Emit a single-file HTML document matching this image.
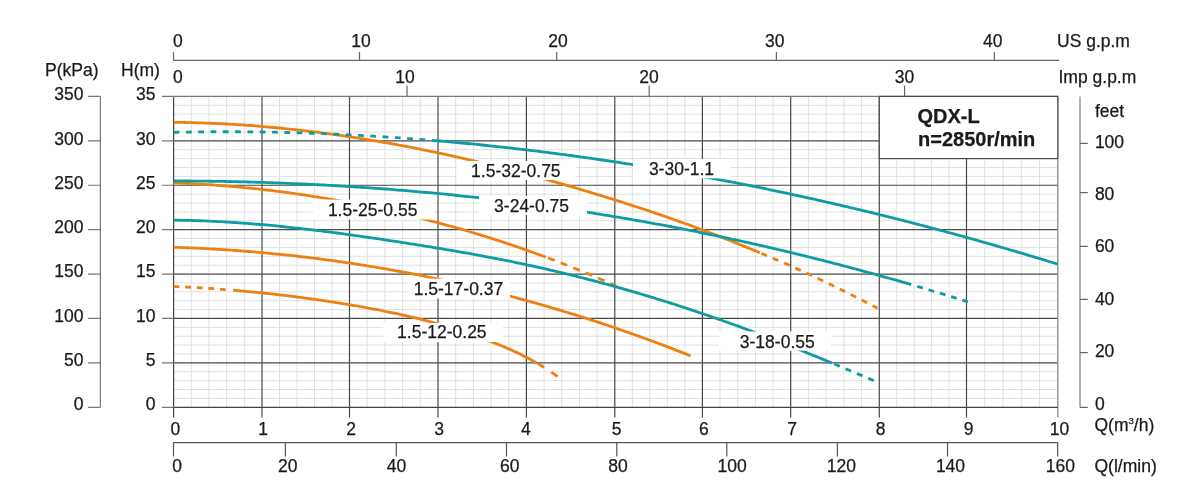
<!DOCTYPE html><html><head><meta charset="utf-8"><style>html,body{margin:0;padding:0;background:#fff;}body{width:1196px;height:500px;overflow:hidden;}svg{display:block;will-change:transform;}text{font-family:"Liberation Sans", sans-serif;fill:#1a1a1a;stroke:#1a1a1a;stroke-width:0.25px;}</style></head><body>
<svg width="1196" height="500" viewBox="0 0 1196 500">
<rect width="1196" height="500" fill="#fff"/>
<path d="M191.28 96.4V407.3M208.96 96.4V407.3M226.64 96.4V407.3M244.32 96.4V407.3M279.50 96.4V407.3M297.00 96.4V407.3M314.50 96.4V407.3M332.00 96.4V407.3M367.20 96.4V407.3M384.90 96.4V407.3M402.60 96.4V407.3M420.30 96.4V407.3M455.68 96.4V407.3M473.36 96.4V407.3M491.04 96.4V407.3M508.72 96.4V407.3M544.08 96.4V407.3M561.76 96.4V407.3M579.44 96.4V407.3M597.12 96.4V407.3M632.32 96.4V407.3M649.84 96.4V407.3M667.36 96.4V407.3M684.88 96.4V407.3M720.06 96.4V407.3M737.72 96.4V407.3M755.38 96.4V407.3M773.04 96.4V407.3M808.42 96.4V407.3M826.14 96.4V407.3M843.86 96.4V407.3M861.58 96.4V407.3M896.74 96.4V407.3M914.18 96.4V407.3M931.62 96.4V407.3M949.06 96.4V407.3M984.76 96.4V407.3M1003.02 96.4V407.3M1021.28 96.4V407.3M1039.54 96.4V407.3M173.6 398.42H1057.8M173.6 389.53H1057.8M173.6 380.65H1057.8M173.6 371.77H1057.8M173.6 354.00H1057.8M173.6 345.12H1057.8M173.6 336.24H1057.8M173.6 327.35H1057.8M173.6 309.59H1057.8M173.6 300.71H1057.8M173.6 291.82H1057.8M173.6 282.94H1057.8M173.6 265.17H1057.8M173.6 256.29H1057.8M173.6 247.41H1057.8M173.6 238.53H1057.8M173.6 220.76H1057.8M173.6 211.88H1057.8M173.6 202.99H1057.8M173.6 194.11H1057.8M173.6 176.35H1057.8M173.6 167.46H1057.8M173.6 158.58H1057.8M173.6 149.70H1057.8M173.6 131.93H1057.8M173.6 123.05H1057.8M173.6 114.17H1057.8M173.6 105.28H1057.8" stroke="#e0e0e0" stroke-width="1" fill="none"/>
<path d="M262.00 96.4V407.3M349.50 96.4V407.3M438.00 96.4V407.3M526.40 96.4V407.3M614.80 96.4V407.3M702.40 96.4V407.3M790.70 96.4V407.3M879.30 96.4V407.3M966.50 96.4V407.3M173.6 362.89H1057.8M173.6 318.47H1057.8M173.6 274.06H1057.8M173.6 229.64H1057.8M173.6 185.23H1057.8M173.6 140.81H1057.8" stroke="#4a4a4a" stroke-width="1.2" fill="none"/>
<path d="M173.6 96.4H1057.8" stroke="#777" stroke-width="1.3" fill="none"/>
<path d="M1057.8 96.4V417.5" stroke="#8a8a8a" stroke-width="1.3" fill="none"/>
<path d="M173.6 407.3H1057.8M173.6 96.4V417.5" stroke="#444" stroke-width="1.2" fill="none"/>
<path d="M262.00 407.3V417.5M349.50 407.3V417.5M438.00 407.3V417.5M526.40 407.3V417.5M614.80 407.3V417.5M702.40 407.3V417.5M790.70 407.3V417.5M879.30 407.3V417.5M966.50 407.3V417.5" stroke="#4a4a4a" stroke-width="1.2" fill="none"/>
<path d="M173.60 122.34 L176.24 122.37 L178.88 122.40 L181.52 122.44 L184.16 122.48 L186.80 122.53 L189.44 122.59 L192.07 122.65 L194.71 122.72 L197.35 122.79 L199.99 122.87 L202.63 122.96 L205.27 123.05 L207.91 123.15 L210.55 123.25 L213.19 123.36 L215.83 123.48 L218.47 123.60 L221.11 123.73 L223.75 123.86 L226.38 124.00 L229.02 124.15 L231.66 124.30 L234.30 124.46 L236.94 124.62 L239.58 124.79 L242.22 124.96 L244.86 125.14 L247.50 125.33 L250.14 125.52 L252.78 125.72 L255.42 125.92 L258.06 126.13 L260.69 126.34 L263.33 126.56 L265.97 126.79 L268.61 127.02 L271.25 127.26 L273.89 127.50 L276.53 127.75 L279.17 128.00 L281.81 128.26 L284.45 128.53 L287.09 128.80 L289.73 129.07 L292.36 129.35 L295.00 129.64 L297.64 129.93 L300.28 130.23 L302.92 130.53 L305.56 130.84 L308.20 131.16 L310.84 131.47 L313.48 131.80 L316.12 132.13 L318.76 132.46 L321.40 132.80 L324.04 133.15 L326.67 133.50 L329.31 133.86 L331.95 134.22 L334.59 134.59 L337.23 134.96 L339.87 135.33 L342.51 135.72 L345.15 136.10 L347.79 136.50 L350.43 136.89 L353.07 137.30 L355.71 137.70 L358.35 138.12 L360.98 138.54 L363.62 138.96 L366.26 139.39 L368.90 139.82 L371.54 140.26 L374.18 140.70 L376.82 141.15 L379.46 141.60 L382.10 142.06 L384.74 142.52 L387.38 142.99 L390.02 143.46 L392.66 143.94 L395.29 144.42 L397.93 144.91 L400.57 145.40 L403.21 145.90 L405.85 146.40 L408.49 146.90 L411.13 147.41 L413.77 147.93 L416.41 148.45 L419.05 148.98 L421.69 149.51 L424.33 150.04 L426.97 150.58 L429.60 151.12 L432.24 151.67 L434.88 152.22 L437.52 152.78 L440.16 153.34 L442.80 153.91 L445.44 154.48 L448.08 155.06 L450.72 155.64 L453.36 156.22 L456.00 156.81 L458.64 157.41 L461.27 158.00 L463.91 158.61 L466.55 159.21 L469.19 159.83 L471.83 160.44 L474.47 161.06 L477.11 161.69 L479.75 162.31 L482.39 162.95 L485.03 163.59 L487.67 164.23 L490.31 164.87 L492.95 165.52 L495.58 166.18 L498.22 166.84 L500.86 167.50 L503.50 168.17 L506.14 168.84 L508.78 169.51 L511.42 170.19 L514.06 170.88 L516.70 171.57 L519.34 172.26 L521.98 172.95 L524.62 173.65 L527.26 174.36 L529.89 175.07 L532.53 175.78 L535.17 176.49 L537.81 177.21 L540.45 177.94 L543.09 178.67 L545.73 179.40 L548.37 180.14 L551.01 180.87 L553.65 181.62 L556.29 182.37 L558.93 183.12 L561.57 183.87 L564.20 184.63 L566.84 185.40 L569.48 186.16 L572.12 186.93 L574.76 187.71 L577.40 188.49 L580.04 189.27 L582.68 190.05 L585.32 190.84 L587.96 191.63 L590.60 192.43 L593.24 193.23 L595.88 194.04 L598.51 194.84 L601.15 195.65 L603.79 196.47 L606.43 197.29 L609.07 198.11 L611.71 198.93 L614.35 199.76 L616.99 200.59 L619.63 201.43 L622.27 202.27 L624.91 203.11 L627.55 203.96 L630.18 204.81 L632.82 205.67 L635.46 206.53 L638.10 207.39 L640.74 208.26 L643.38 209.13 L646.02 210.00 L648.66 210.88 L651.30 211.77 L653.94 212.66 L656.58 213.55 L659.22 214.45 L661.86 215.36 L664.49 216.26 L667.13 217.18 L669.77 218.10 L672.41 219.02 L675.05 219.95 L677.69 220.89 L680.33 221.83 L682.97 222.77 L685.61 223.72 L688.25 224.68 L690.89 225.64 L693.53 226.61 L696.17 227.58 L698.80 228.57 L701.44 229.55 L704.08 230.54 L706.72 231.54 L709.36 232.55 L712.00 233.56 L714.64 234.57 L717.28 235.60 L719.92 236.62 L722.56 237.65 L725.20 238.69 L727.84 239.73 L730.48 240.78 L733.11 241.83 L735.75 242.89 L738.39 243.95 L741.03 245.02 L743.67 246.09 L746.31 247.16 L748.95 248.24 L751.59 249.32 L754.23 250.41 L756.87 251.50 L759.51 252.59 L759.80 252.71" stroke="#EE800F" stroke-width="2.8" fill="none" stroke-linejoin="round"/>
<path d="M761.37 253.37 L763.92 254.43 L766.45 255.49 L767.00 255.72M772.71 258.13 L775.23 259.20 L777.76 260.28 L778.32 260.52M784.01 262.98 L786.53 264.08 L789.06 265.20 L789.60 265.43M795.26 267.96 L797.78 269.10 L800.31 270.25 L800.81 270.48M806.45 273.08 L808.96 274.25 L811.50 275.43 L811.97 275.66M817.58 278.31 L820.09 279.51 L822.62 280.72 L823.08 280.94M828.66 283.64 L831.16 284.86 L833.69 286.10 L834.14 286.32M839.70 289.06 L842.23 290.32 L844.76 291.58 L845.17 291.78M850.71 294.55 L853.24 295.82 L855.77 297.10 L856.16 297.29M861.69 300.09 L864.19 301.36 L866.73 302.65 L867.13 302.86M872.65 305.68 L875.20 306.98 L877.50 308.16" stroke="#EE800F" stroke-width="2.8" fill="none"/>
<path d="M173.60 132.33 L176.13 132.27 L178.66 132.22 L179.40 132.20M185.90 132.08 L188.40 132.04 L190.93 132.00 L191.70 131.99M198.20 131.90 L200.80 131.87 L203.33 131.85 L204.00 131.84M210.50 131.79 L213.07 131.77 L215.60 131.76 L216.30 131.76M222.80 131.74 L225.34 131.73 L227.87 131.73 L228.60 131.74M235.10 131.75 L237.62 131.76 L240.15 131.77 L240.90 131.78M247.40 131.82 L250.01 131.85 L252.54 131.87 L253.20 131.88M259.69 131.96 L262.29 132.00 L264.82 132.04 L265.49 132.05M271.99 132.16 L274.56 132.21 L277.09 132.26 L277.79 132.28M284.29 132.43 L286.83 132.49 L289.36 132.55 L290.09 132.57M296.59 132.75 L299.10 132.82 L301.63 132.90 L302.38 132.93M308.88 133.14 L311.50 133.23 L314.03 133.32 L314.68 133.34M321.17 133.58 L323.77 133.69 L326.30 133.79 L326.97 133.82M333.46 134.09 L336.04 134.21 L338.57 134.32 L339.26 134.35M345.75 134.66 L348.31 134.79 L350.85 134.92 L351.54 134.95M358.03 135.29 L360.59 135.43 L363.12 135.57 L363.82 135.61M370.31 135.98 L372.86 136.13 L375.39 136.29 L376.10 136.33M382.59 136.73 L385.13 136.90 L387.66 137.06 L388.38 137.11M394.86 137.54 L397.40 137.72 L399.93 137.89 L400.65 137.94M407.13 138.41 L409.67 138.60 L412.20 138.79 L412.92 138.84M419.40 139.34 L421.95 139.54 L424.48 139.74 L425.18 139.79" stroke="#0E9CA4" stroke-width="2.8" fill="none"/>
<path d="M432.00 140.35 L434.50 140.56 L437.01 140.77 L439.51 140.98 L442.02 141.20 L444.52 141.42 L447.03 141.64 L449.53 141.86 L452.04 142.09 L454.54 142.32 L457.04 142.55 L459.55 142.78 L462.05 143.02 L464.56 143.26 L467.06 143.50 L469.57 143.74 L472.07 143.98 L474.58 144.23 L477.08 144.48 L479.58 144.73 L482.09 144.99 L484.59 145.25 L487.10 145.51 L489.60 145.77 L492.11 146.03 L494.61 146.30 L497.12 146.57 L499.62 146.84 L502.12 147.11 L504.63 147.39 L507.13 147.67 L509.64 147.95 L512.14 148.23 L514.65 148.52 L517.15 148.81 L519.66 149.10 L522.16 149.39 L524.66 149.68 L527.17 149.98 L529.67 150.28 L532.18 150.58 L534.68 150.89 L537.19 151.20 L539.69 151.50 L542.20 151.82 L544.70 152.13 L547.20 152.45 L549.71 152.77 L552.21 153.09 L554.72 153.41 L557.22 153.74 L559.73 154.06 L562.23 154.39 L564.74 154.73 L567.24 155.06 L569.74 155.40 L572.25 155.74 L574.75 156.08 L577.26 156.42 L579.76 156.77 L582.27 157.12 L584.77 157.47 L587.28 157.82 L589.78 158.18 L592.28 158.54 L594.79 158.90 L597.29 159.26 L599.80 159.63 L602.30 159.99 L604.81 160.36 L607.31 160.73 L609.82 161.11 L612.32 161.48 L614.83 161.86 L617.33 162.24 L619.83 162.63 L622.34 163.01 L624.84 163.40 L627.35 163.79 L629.85 164.18 L632.36 164.58 L634.86 164.97 L637.37 165.37 L639.87 165.77 L642.37 166.18 L644.88 166.58 L647.38 166.99 L649.89 167.40 L652.39 167.82 L654.90 168.23 L657.40 168.65 L659.91 169.07 L662.41 169.49 L664.91 169.91 L667.42 170.34 L669.92 170.77 L672.43 171.20 L674.93 171.63 L677.44 172.07 L679.94 172.50 L682.45 172.94 L684.95 173.39 L687.45 173.83 L689.96 174.28 L692.46 174.73 L694.97 175.18 L697.47 175.63 L699.98 176.09 L702.48 176.55 L704.99 177.01 L707.49 177.47 L709.99 177.93 L712.50 178.40 L715.00 178.87 L717.51 179.34 L720.01 179.82 L722.52 180.29 L725.02 180.77 L727.53 181.25 L730.03 181.73 L732.53 182.22 L735.04 182.71 L737.54 183.19 L740.05 183.69 L742.55 184.18 L745.06 184.68 L747.56 185.18 L750.07 185.68 L752.57 186.18 L755.07 186.69 L757.58 187.19 L760.08 187.70 L762.59 188.21 L765.09 188.73 L767.60 189.25 L770.10 189.76 L772.61 190.29 L775.11 190.81 L777.61 191.33 L780.12 191.86 L782.62 192.39 L785.13 192.93 L787.63 193.46 L790.14 194.00 L792.64 194.54 L795.15 195.08 L797.65 195.62 L800.15 196.17 L802.66 196.71 L805.16 197.26 L807.67 197.82 L810.17 198.37 L812.68 198.93 L815.18 199.49 L817.69 200.05 L820.19 200.61 L822.69 201.18 L825.20 201.75 L827.70 202.32 L830.21 202.89 L832.71 203.47 L835.22 204.04 L837.72 204.62 L840.23 205.20 L842.73 205.79 L845.23 206.37 L847.74 206.96 L850.24 207.55 L852.75 208.15 L855.25 208.74 L857.76 209.34 L860.26 209.94 L862.77 210.54 L865.27 211.14 L867.77 211.75 L870.28 212.36 L872.78 212.97 L875.29 213.58 L877.79 214.20 L880.30 214.81 L882.80 215.43 L885.31 216.05 L887.81 216.68 L890.31 217.30 L892.82 217.93 L895.32 218.56 L897.83 219.20 L900.33 219.83 L902.84 220.47 L905.34 221.11 L907.85 221.75 L910.35 222.39 L912.85 223.04 L915.36 223.69 L917.86 224.34 L920.37 224.99 L922.87 225.65 L925.38 226.30 L927.88 226.96 L930.39 227.63 L932.89 228.29 L935.39 228.96 L937.90 229.62 L940.40 230.30 L942.91 230.97 L945.41 231.64 L947.92 232.32 L950.42 233.00 L952.93 233.68 L955.43 234.37 L957.93 235.05 L960.44 235.74 L962.94 236.43 L965.45 237.12 L967.95 237.82 L970.46 238.52 L972.96 239.21 L975.47 239.92 L977.97 240.62 L980.48 241.33 L982.98 242.03 L985.48 242.74 L987.99 243.46 L990.49 244.17 L993.00 244.89 L995.50 245.61 L998.01 246.33 L1000.51 247.05 L1003.02 247.78 L1005.52 248.51 L1008.02 249.24 L1010.53 249.97 L1013.03 250.70 L1015.54 251.44 L1018.04 252.18 L1020.55 252.92 L1023.05 253.67 L1025.56 254.41 L1028.06 255.16 L1030.56 255.91 L1033.07 256.66 L1035.57 257.42 L1038.08 258.17 L1040.58 258.93 L1043.09 259.69 L1045.59 260.46 L1048.10 261.22 L1050.60 261.99 L1053.10 262.76 L1055.61 263.53 L1057.80 264.21" stroke="#0E9CA4" stroke-width="2.8" fill="none" stroke-linejoin="round"/>
<path d="M173.60 182.80 L176.21 182.90 L178.81 183.01 L181.42 183.13 L184.02 183.25 L186.63 183.37 L189.24 183.51 L191.84 183.64 L194.45 183.79 L197.05 183.94 L199.66 184.09 L202.27 184.25 L204.87 184.42 L207.48 184.59 L210.08 184.76 L212.69 184.95 L215.30 185.14 L217.90 185.33 L220.51 185.53 L223.11 185.74 L225.72 185.95 L228.33 186.16 L230.93 186.39 L233.54 186.61 L236.14 186.85 L238.75 187.09 L241.36 187.33 L243.96 187.58 L246.57 187.84 L249.17 188.10 L251.78 188.37 L254.39 188.65 L256.99 188.93 L259.60 189.21 L262.20 189.50 L264.81 189.80 L267.42 190.10 L270.02 190.41 L272.63 190.73 L275.23 191.05 L277.84 191.37 L280.45 191.70 L283.05 192.04 L285.66 192.39 L288.26 192.73 L290.87 193.09 L293.48 193.45 L296.08 193.82 L298.69 194.19 L301.29 194.57 L303.90 194.95 L306.51 195.34 L309.11 195.74 L311.72 196.14 L314.32 196.55 L316.93 196.96 L319.54 197.38 L322.14 197.81 L324.75 198.24 L327.35 198.68 L329.96 199.12 L332.57 199.57 L335.17 200.02 L337.78 200.49 L340.38 200.95 L342.99 201.43 L345.60 201.90 L348.20 202.39 L350.81 202.88 L353.41 203.38 L356.02 203.88 L358.63 204.39 L361.23 204.90 L363.84 205.42 L366.44 205.95 L369.05 206.48 L371.66 207.02 L374.26 207.57 L376.87 208.12 L379.47 208.67 L382.08 209.24 L384.69 209.80 L387.29 210.38 L389.90 210.96 L392.50 211.55 L395.11 212.14 L397.72 212.74 L400.32 213.34 L402.93 213.95 L405.53 214.57 L408.14 215.20 L410.75 215.82 L413.35 216.46 L415.96 217.10 L418.56 217.75 L421.17 218.40 L423.78 219.06 L426.38 219.73 L428.99 220.40 L431.59 221.08 L434.20 221.76 L436.81 222.45 L439.41 223.15 L442.02 223.85 L444.62 224.56 L447.23 225.28 L449.84 226.00 L452.44 226.72 L455.05 227.46 L457.65 228.20 L460.26 228.95 L462.87 229.70 L465.47 230.46 L468.08 231.22 L470.68 231.99 L473.29 232.77 L475.90 233.56 L478.50 234.35 L481.11 235.15 L483.71 235.95 L486.32 236.76 L488.93 237.58 L491.53 238.40 L494.14 239.24 L496.74 240.07 L499.35 240.92 L501.96 241.77 L504.56 242.62 L507.17 243.49 L509.77 244.36 L512.38 245.24 L514.99 246.12 L517.59 247.01 L520.20 247.91 L522.80 248.82 L525.41 249.73 L528.02 250.65 L530.62 251.57 L533.23 252.51 L535.83 253.45 L538.44 254.39 L541.05 255.35 L543.65 256.31 L545.70 257.07" stroke="#EE800F" stroke-width="2.8" fill="none" stroke-linejoin="round"/>
<path d="M548.04 257.95 L550.55 258.89 L553.07 259.84 L554.59 260.42M560.66 262.76 L563.16 263.73 L565.68 264.72 L567.17 265.31M573.21 267.71 L575.73 268.73 L578.25 269.75 L579.70 270.34M585.71 272.82 L588.24 273.87 L590.75 274.93 L592.17 275.52M598.15 278.07 L600.67 279.16 L603.18 280.25 L604.57 280.85M610.52 283.47 L613.03 284.58 L615.54 285.71 L616.50 286.14" stroke="#EE800F" stroke-width="2.8" fill="none"/>
<path d="M173.60 180.95 L176.18 180.96 L178.77 180.97 L181.35 180.98 L183.93 180.99 L186.51 181.00 L189.10 181.02 L191.68 181.04 L194.26 181.06 L196.85 181.08 L199.43 181.11 L202.01 181.13 L204.59 181.16 L207.18 181.19 L209.76 181.23 L212.34 181.26 L214.93 181.30 L217.51 181.34 L220.09 181.39 L222.67 181.43 L225.26 181.48 L227.84 181.53 L230.42 181.58 L233.01 181.64 L235.59 181.70 L238.17 181.75 L240.76 181.82 L243.34 181.88 L245.92 181.95 L248.50 182.01 L251.09 182.09 L253.67 182.16 L256.25 182.23 L258.84 182.31 L261.42 182.39 L264.00 182.47 L266.58 182.56 L269.17 182.64 L271.75 182.73 L274.33 182.83 L276.92 182.92 L279.50 183.02 L282.08 183.11 L284.66 183.22 L287.25 183.32 L289.83 183.42 L292.41 183.53 L295.00 183.64 L297.58 183.76 L300.16 183.87 L302.74 183.99 L305.33 184.11 L307.91 184.23 L310.49 184.36 L313.08 184.48 L315.66 184.61 L318.24 184.74 L320.82 184.88 L323.41 185.01 L325.99 185.15 L328.57 185.29 L331.16 185.44 L333.74 185.58 L336.32 185.73 L338.91 185.88 L341.49 186.04 L344.07 186.19 L346.65 186.35 L349.24 186.51 L351.82 186.68 L354.40 186.84 L356.99 187.01 L359.57 187.18 L362.15 187.35 L364.73 187.53 L367.32 187.71 L369.90 187.89 L372.48 188.07 L375.07 188.26 L377.65 188.44 L380.23 188.63 L382.81 188.83 L385.40 189.02 L387.98 189.22 L390.56 189.42 L393.15 189.62 L395.73 189.83 L398.31 190.04 L400.89 190.25 L403.48 190.46 L406.06 190.67 L408.64 190.89 L411.23 191.11 L413.81 191.33 L416.39 191.56 L418.97 191.79 L421.56 192.02 L424.14 192.25 L426.72 192.49 L429.31 192.72 L431.89 192.96 L434.47 193.21 L437.05 193.45 L439.64 193.70 L442.22 193.95 L444.80 194.21 L447.39 194.46 L449.97 194.72 L452.55 194.98 L455.14 195.24 L457.72 195.51 L460.30 195.78 L462.88 196.05 L465.47 196.32 L468.05 196.60 L470.63 196.88 L473.22 197.16 L475.80 197.45 L478.38 197.73 L480.96 198.02 L483.55 198.31 L486.13 198.61 L488.71 198.91 L491.30 199.21 L493.88 199.51 L496.46 199.81 L499.04 200.12 L501.63 200.43 L504.21 200.75 L506.79 201.06 L509.38 201.38 L511.96 201.70 L514.54 202.03 L517.12 202.35 L519.71 202.68 L522.29 203.01 L524.87 203.35 L527.46 203.68 L530.04 204.02 L532.62 204.37 L535.20 204.71 L537.79 205.06 L540.37 205.41 L542.95 205.76 L545.54 206.12 L548.12 206.48 L550.70 206.84 L553.29 207.20 L555.87 207.57 L558.45 207.94 L561.03 208.31 L563.62 208.68 L566.20 209.06 L568.78 209.44 L571.37 209.83 L573.95 210.21 L576.53 210.60 L579.11 210.99 L581.70 211.38 L584.28 211.78 L586.86 212.18 L589.45 212.58 L592.03 212.99 L594.61 213.40 L597.19 213.81 L599.78 214.22 L602.36 214.64 L604.94 215.05 L607.53 215.48 L610.11 215.90 L612.69 216.33 L615.27 216.76 L617.86 217.19 L620.44 217.63 L623.02 218.06 L625.61 218.50 L628.19 218.95 L630.77 219.39 L633.35 219.84 L635.94 220.30 L638.52 220.75 L641.10 221.21 L643.69 221.67 L646.27 222.13 L648.85 222.60 L651.43 223.07 L654.02 223.54 L656.60 224.01 L659.18 224.49 L661.77 224.97 L664.35 225.46 L666.93 225.94 L669.52 226.43 L672.10 226.92 L674.68 227.42 L677.26 227.91 L679.85 228.41 L682.43 228.91 L685.01 229.42 L687.60 229.93 L690.18 230.44 L692.76 230.95 L695.34 231.47 L697.93 231.99 L700.51 232.51 L703.09 233.04 L705.68 233.56 L708.26 234.09 L710.84 234.63 L713.42 235.16 L716.01 235.70 L718.59 236.25 L721.17 236.79 L723.76 237.34 L726.34 237.89 L728.92 238.44 L731.50 239.00 L734.09 239.56 L736.67 240.12 L739.25 240.68 L741.84 241.25 L744.42 241.82 L747.00 242.39 L749.58 242.97 L752.17 243.55 L754.75 244.13 L757.33 244.71 L759.92 245.30 L762.50 245.89 L765.08 246.48 L767.67 247.08 L770.25 247.67 L772.83 248.28 L775.41 248.88 L778.00 249.49 L780.58 250.10 L783.16 250.71 L785.75 251.32 L788.33 251.94 L790.91 252.56 L793.49 253.19 L796.08 253.81 L798.66 254.44 L801.24 255.07 L803.83 255.71 L806.41 256.35 L808.99 256.99 L811.57 257.63 L814.16 258.28 L816.74 258.93 L819.32 259.58 L821.91 260.23 L824.49 260.89 L827.07 261.55 L829.65 262.21 L832.24 262.88 L834.82 263.55 L837.40 264.22 L839.99 264.90 L842.57 265.57 L845.15 266.25 L847.73 266.94 L850.32 267.62 L852.90 268.31 L855.48 269.00 L858.07 269.70 L860.65 270.40 L863.23 271.10 L865.81 271.80 L868.40 272.51 L870.98 273.21 L873.56 273.93 L876.15 274.64 L878.73 275.36 L881.31 276.08 L883.90 276.80 L886.48 277.53 L889.06 278.26 L891.64 278.99 L894.23 279.72 L896.81 280.46 L899.39 281.20 L901.98 281.94 L904.56 282.69 L907.14 283.44 L909.72 284.19 L911.20 284.62" stroke="#0E9CA4" stroke-width="2.8" fill="none" stroke-linejoin="round"/>
<path d="M917.25 286.39 L919.77 287.14 L922.29 287.89 L922.85 288.05M928.56 289.75 L931.06 290.51 L933.59 291.27 L934.16 291.44M939.85 293.16 L942.36 293.93 L944.88 294.70 L945.45 294.87M951.13 296.63 L953.65 297.41 L956.17 298.19 L956.72 298.36M962.40 300.14 L964.92 300.93 L967.44 301.73 L967.98 301.90" stroke="#0E9CA4" stroke-width="2.8" fill="none"/>
<path d="M173.60 220.20 L176.23 220.22 L178.87 220.25 L181.50 220.29 L184.14 220.34 L186.77 220.39 L189.41 220.45 L192.04 220.52 L194.68 220.59 L197.31 220.67 L199.95 220.76 L202.58 220.85 L205.21 220.96 L207.85 221.06 L210.48 221.18 L213.12 221.30 L215.75 221.42 L218.39 221.56 L221.02 221.70 L223.66 221.84 L226.29 222.00 L228.92 222.15 L231.56 222.32 L234.19 222.49 L236.83 222.66 L239.46 222.85 L242.10 223.03 L244.73 223.23 L247.37 223.43 L250.00 223.63 L252.64 223.84 L255.27 224.05 L257.90 224.27 L260.54 224.50 L263.17 224.73 L265.81 224.97 L268.44 225.21 L271.08 225.45 L273.71 225.70 L276.35 225.96 L278.98 226.22 L281.62 226.49 L284.25 226.75 L286.88 227.03 L289.52 227.31 L292.15 227.59 L294.79 227.88 L297.42 228.17 L300.06 228.47 L302.69 228.77 L305.33 229.07 L307.96 229.38 L310.59 229.69 L313.23 230.01 L315.86 230.33 L318.50 230.65 L321.13 230.98 L323.77 231.31 L326.40 231.64 L329.04 231.98 L331.67 232.32 L334.31 232.66 L336.94 233.01 L339.57 233.36 L342.21 233.72 L344.84 234.07 L347.48 234.43 L350.11 234.80 L352.75 235.16 L355.38 235.53 L358.02 235.90 L360.65 236.27 L363.29 236.65 L365.92 237.03 L368.55 237.41 L371.19 237.79 L373.82 238.18 L376.46 238.57 L379.09 238.96 L381.73 239.35 L384.36 239.75 L387.00 240.14 L389.63 240.54 L392.26 240.94 L394.90 241.34 L397.53 241.74 L400.17 242.15 L402.80 242.56 L405.44 242.96 L408.07 243.37 L410.71 243.78 L413.34 244.20 L415.98 244.61 L418.61 245.03 L421.24 245.45 L423.88 245.87 L426.51 246.29 L429.15 246.72 L431.78 247.15 L434.42 247.58 L437.05 248.01 L439.69 248.45 L442.32 248.89 L444.96 249.33 L447.59 249.77 L450.22 250.22 L452.86 250.67 L455.49 251.12 L458.13 251.58 L460.76 252.04 L463.40 252.50 L466.03 252.96 L468.67 253.43 L471.30 253.90 L473.93 254.38 L476.57 254.86 L479.20 255.34 L481.84 255.83 L484.47 256.32 L487.11 256.82 L489.74 257.32 L492.38 257.82 L495.01 258.33 L497.65 258.84 L500.28 259.35 L502.91 259.87 L505.55 260.40 L508.18 260.93 L510.82 261.46 L513.45 262.00 L516.09 262.54 L518.72 263.09 L521.36 263.64 L523.99 264.20 L526.63 264.76 L529.26 265.33 L531.89 265.90 L534.53 266.48 L537.16 267.06 L539.80 267.65 L542.43 268.24 L545.07 268.84 L547.70 269.45 L550.34 270.05 L552.97 270.67 L555.61 271.29 L558.24 271.91 L560.87 272.54 L563.51 273.17 L566.14 273.81 L568.78 274.45 L571.41 275.10 L574.05 275.76 L576.68 276.42 L579.32 277.08 L581.95 277.75 L584.58 278.42 L587.22 279.10 L589.85 279.79 L592.49 280.47 L595.12 281.17 L597.76 281.87 L600.39 282.57 L603.03 283.28 L605.66 283.99 L608.30 284.71 L610.93 285.44 L613.56 286.17 L616.20 286.90 L618.83 287.64 L621.47 288.38 L624.10 289.13 L626.74 289.88 L629.37 290.64 L632.01 291.41 L634.64 292.17 L637.28 292.95 L639.91 293.73 L642.54 294.51 L645.18 295.30 L647.81 296.09 L650.45 296.89 L653.08 297.69 L655.72 298.50 L658.35 299.31 L660.99 300.13 L663.62 300.95 L666.25 301.78 L668.89 302.61 L671.52 303.45 L674.16 304.29 L676.79 305.13 L679.43 305.99 L682.06 306.84 L684.70 307.70 L687.33 308.57 L689.97 309.44 L692.60 310.32 L695.23 311.20 L697.87 312.08 L700.50 312.97 L703.14 313.87 L705.77 314.77 L708.41 315.67 L711.04 316.58 L713.68 317.50 L716.31 318.41 L718.95 319.34 L721.58 320.27 L724.21 321.20 L726.85 322.14 L729.48 323.08 L732.12 324.03 L734.75 324.98 L737.39 325.94 L740.02 326.90 L742.66 327.87 L745.29 328.84 L747.92 329.81 L750.56 330.80 L753.19 331.78 L755.83 332.77 L758.46 333.77 L761.10 334.77 L763.73 335.77 L766.37 336.78 L769.00 337.79 L771.64 338.81 L774.27 339.83 L776.90 340.85 L779.54 341.88 L782.17 342.92 L784.81 343.95 L787.44 345.00 L790.08 346.04 L792.71 347.09 L795.35 348.14 L797.98 349.20 L800.62 350.25 L803.25 351.32 L805.88 352.38 L808.52 353.45 L811.15 354.52 L813.79 355.60 L816.42 356.67 L819.06 357.75 L821.69 358.84 L824.33 359.92 L826.96 361.01 L829.59 362.10 L831.90 363.06" stroke="#0E9CA4" stroke-width="2.8" fill="none" stroke-linejoin="round"/>
<path d="M834.21 364.02 L836.72 365.06 L839.23 366.11 L839.75 366.33M845.56 368.76 L848.07 369.82 L850.58 370.87 L851.09 371.08M856.89 373.53 L859.41 374.59 L861.91 375.66 L862.42 375.87M868.22 378.33 L870.74 379.40 L873.24 380.47 L873.74 380.68" stroke="#0E9CA4" stroke-width="2.8" fill="none"/>
<path d="M173.60 247.28 L176.19 247.36 L178.77 247.45 L181.36 247.54 L183.95 247.63 L186.53 247.74 L189.12 247.84 L191.70 247.95 L194.29 248.06 L196.88 248.18 L199.46 248.31 L202.05 248.43 L204.64 248.56 L207.22 248.70 L209.81 248.84 L212.39 248.98 L214.98 249.13 L217.57 249.29 L220.15 249.45 L222.74 249.61 L225.33 249.77 L227.91 249.95 L230.50 250.12 L233.08 250.30 L235.67 250.49 L238.26 250.68 L240.84 250.87 L243.43 251.07 L246.02 251.27 L248.60 251.48 L251.19 251.69 L253.78 251.90 L256.36 252.12 L258.95 252.35 L261.53 252.58 L264.12 252.81 L266.71 253.05 L269.29 253.29 L271.88 253.54 L274.47 253.79 L277.05 254.05 L279.64 254.31 L282.22 254.57 L284.81 254.84 L287.40 255.12 L289.98 255.40 L292.57 255.68 L295.16 255.97 L297.74 256.26 L300.33 256.56 L302.91 256.86 L305.50 257.17 L308.09 257.48 L310.67 257.79 L313.26 258.11 L315.85 258.44 L318.43 258.76 L321.02 259.10 L323.61 259.44 L326.19 259.78 L328.78 260.13 L331.36 260.48 L333.95 260.83 L336.54 261.20 L339.12 261.56 L341.71 261.93 L344.30 262.31 L346.88 262.69 L349.47 263.07 L352.05 263.46 L354.64 263.85 L357.23 264.25 L359.81 264.65 L362.40 265.06 L364.99 265.47 L367.57 265.89 L370.16 266.31 L372.74 266.74 L375.33 267.17 L377.92 267.60 L380.50 268.04 L383.09 268.49 L385.68 268.94 L388.26 269.39 L390.85 269.85 L393.43 270.31 L396.02 270.78 L398.61 271.25 L401.19 271.73 L403.78 272.21 L406.37 272.70 L408.95 273.19 L411.54 273.69 L414.13 274.19 L416.71 274.70 L419.30 275.21 L421.88 275.72 L424.47 276.24 L427.06 276.77 L429.64 277.30 L432.23 277.83 L434.82 278.37 L437.40 278.91 L439.99 279.46 L442.57 280.02 L445.16 280.57 L447.75 281.14 L450.33 281.70 L452.92 282.28 L455.51 282.85 L458.09 283.44 L460.68 284.02 L463.26 284.61 L465.85 285.21 L468.44 285.81 L471.02 286.42 L473.61 287.03 L476.20 287.65 L478.78 288.27 L481.37 288.89 L483.96 289.52 L486.54 290.16 L489.13 290.80 L491.71 291.44 L494.30 292.09 L496.89 292.74 L499.47 293.40 L502.06 294.07 L504.65 294.74 L507.23 295.41 L509.82 296.09 L512.40 296.77 L514.99 297.46 L517.58 298.16 L520.16 298.85 L522.75 299.56 L525.34 300.27 L527.92 300.98 L530.51 301.70 L533.09 302.42 L535.68 303.15 L538.27 303.88 L540.85 304.62 L543.44 305.36 L546.03 306.11 L548.61 306.86 L551.20 307.62 L553.79 308.38 L556.37 309.15 L558.96 309.92 L561.54 310.70 L564.13 311.48 L566.72 312.27 L569.30 313.06 L571.89 313.85 L574.48 314.66 L577.06 315.46 L579.65 316.28 L582.23 317.09 L584.82 317.91 L587.41 318.74 L589.99 319.57 L592.58 320.41 L595.17 321.25 L597.75 322.10 L600.34 322.95 L602.92 323.81 L605.51 324.67 L608.10 325.54 L610.68 326.41 L613.27 327.29 L615.86 328.17 L618.44 329.06 L621.03 329.95 L623.62 330.85 L626.20 331.75 L628.79 332.66 L631.37 333.57 L633.96 334.49 L636.55 335.41 L639.13 336.34 L641.72 337.27 L644.31 338.21 L646.89 339.15 L649.48 340.10 L652.06 341.05 L654.65 342.01 L657.24 342.97 L659.82 343.94 L662.41 344.92 L665.00 345.89 L667.58 346.88 L670.17 347.87 L672.75 348.86 L675.34 349.86 L677.93 350.86 L680.51 351.87 L683.10 352.89 L685.69 353.91 L688.27 354.93 L690.60 355.86" stroke="#EE800F" stroke-width="2.8" fill="none" stroke-linejoin="round"/>
<path d="M173.60 286.44 L176.12 286.55 L178.64 286.66 L179.39 286.70M185.19 286.98 L187.71 287.11 L190.23 287.24 L190.98 287.28M196.77 287.61 L199.29 287.76 L201.81 287.91 L202.56 287.96M208.35 288.33 L210.88 288.50 L213.40 288.67 L214.13 288.72M219.92 289.14 L222.43 289.33 L224.95 289.53 L225.70 289.58" stroke="#EE800F" stroke-width="2.8" fill="none"/>
<path d="M233.00 290.18 L235.58 290.39 L238.15 290.61 L240.73 290.84 L243.31 291.07 L245.88 291.31 L248.46 291.55 L251.04 291.80 L253.61 292.05 L256.19 292.30 L258.77 292.56 L261.34 292.83 L263.92 293.10 L266.50 293.37 L269.08 293.65 L271.65 293.93 L274.23 294.22 L276.81 294.51 L279.38 294.81 L281.96 295.11 L284.54 295.42 L287.11 295.73 L289.69 296.05 L292.27 296.37 L294.84 296.70 L297.42 297.03 L300.00 297.36 L302.57 297.71 L305.15 298.05 L307.73 298.40 L310.30 298.76 L312.88 299.12 L315.46 299.48 L318.03 299.85 L320.61 300.22 L323.19 300.60 L325.76 300.99 L328.34 301.38 L330.92 301.77 L333.49 302.17 L336.07 302.57 L338.65 302.98 L341.23 303.40 L343.80 303.81 L346.38 304.24 L348.96 304.66 L351.53 305.10 L354.11 305.54 L356.69 305.98 L359.26 306.43 L361.84 306.88 L364.42 307.34 L366.99 307.81 L369.57 308.28 L372.15 308.76 L374.72 309.25 L377.30 309.74 L379.88 310.24 L382.45 310.75 L385.03 311.26 L387.61 311.78 L390.18 312.31 L392.76 312.85 L395.34 313.40 L397.91 313.95 L400.49 314.52 L403.07 315.09 L405.64 315.67 L408.22 316.27 L410.80 316.87 L413.38 317.48 L415.95 318.10 L418.53 318.73 L421.11 319.37 L423.68 320.02 L426.26 320.69 L428.84 321.36 L431.41 322.05 L433.99 322.74 L436.57 323.45 L439.14 324.17 L441.72 324.90 L444.30 325.65 L446.87 326.41 L449.45 327.17 L452.03 327.96 L454.60 328.75 L457.18 329.56 L459.76 330.38 L462.33 331.22 L464.91 332.07 L467.49 332.93 L470.06 333.81 L472.64 334.70 L475.22 335.61 L477.79 336.53 L480.37 337.47 L482.95 338.42 L485.53 339.39 L488.10 340.38 L490.68 341.38 L493.26 342.39 L495.83 343.42 L498.41 344.47 L500.99 345.54 L503.56 346.62 L506.14 347.72 L508.72 348.85 L511.29 350.00 L513.87 351.17 L516.45 352.37 L519.02 353.59 L521.60 354.85 L524.18 356.14 L526.75 357.46 L529.33 358.82 L531.91 360.22 L534.48 361.66 L536.00 362.52" stroke="#EE800F" stroke-width="2.8" fill="none" stroke-linejoin="round"/>
<path d="M537.56 363.42 L540.06 364.91 L542.57 366.44 L544.14 367.42M551.33 372.14 L553.83 373.88 L556.34 375.68 L557.60 376.60" stroke="#EE800F" stroke-width="2.8" fill="none"/>
<rect x="457" y="161" width="119" height="19" fill="#fff"/>
<rect x="633" y="159" width="98" height="19.30000000000001" fill="#fff"/>
<rect x="313" y="199.6" width="121" height="19.900000000000006" fill="#fff"/>
<rect x="479" y="196" width="108" height="19" fill="#fff"/>
<rect x="408" y="278.6" width="102" height="19.899999999999977" fill="#fff"/>
<rect x="383" y="323" width="120" height="19" fill="#fff"/>
<rect x="719" y="331.5" width="112" height="19.100000000000023" fill="#fff"/>
<text x="471.1" y="176.9" font-size="17.5">1.5-32-0.75</text>
<text x="648.9" y="174.7" font-size="17.5">3-30-1.1</text>
<text x="327.9" y="216.3" font-size="17.5">1.5-25-0.55</text>
<text x="494.1" y="211.6" font-size="17.5">3-24-0.75</text>
<text x="413.7" y="295" font-size="17.5">1.5-17-0.37</text>
<text x="397.1" y="338.4" font-size="17.5">1.5-12-0.25</text>
<text x="739.8" y="347.7" font-size="17.5">3-18-0.55</text>
<rect x="879.3" y="96.4" width="178.5" height="62.2" fill="#fff" stroke="#4a4a4a" stroke-width="1.2"/>
<text x="917.5" y="122.5" font-size="20" font-weight="bold">QDX-L</text>
<text x="918" y="146.2" font-size="20" font-weight="bold">n=2850r/min</text>
<path d="M100.4 96.4V407.29999999999995M88 407.30H100.4M88 362.89H100.4M88 318.47H100.4M88 274.06H100.4M88 229.64H100.4M88 185.23H100.4M88 140.81H100.4M88 96.40H100.4" stroke="#777" stroke-width="1.2" fill="none"/>
<path d="M162 407.30H173.6M162 362.89H173.6M162 318.47H173.6M162 274.06H173.6M162 229.64H173.6M162 185.23H173.6M162 140.81H173.6M162 96.40H173.6" stroke="#777" stroke-width="1.2" fill="none"/>
<text x="83.5" y="410.0" font-size="17.5" text-anchor="end">0</text>
<text x="155.4" y="410.0" font-size="17.5" text-anchor="end">0</text>
<text x="83.5" y="365.8" font-size="17.5" text-anchor="end">50</text>
<text x="155.4" y="365.8" font-size="17.5" text-anchor="end">5</text>
<text x="83.5" y="321.5" font-size="17.5" text-anchor="end">100</text>
<text x="155.4" y="321.5" font-size="17.5" text-anchor="end">10</text>
<text x="83.5" y="277.3" font-size="17.5" text-anchor="end">150</text>
<text x="155.4" y="277.3" font-size="17.5" text-anchor="end">15</text>
<text x="83.5" y="233.1" font-size="17.5" text-anchor="end">200</text>
<text x="155.4" y="233.1" font-size="17.5" text-anchor="end">20</text>
<text x="83.5" y="188.9" font-size="17.5" text-anchor="end">250</text>
<text x="155.4" y="188.9" font-size="17.5" text-anchor="end">25</text>
<text x="83.5" y="144.6" font-size="17.5" text-anchor="end">300</text>
<text x="155.4" y="144.6" font-size="17.5" text-anchor="end">30</text>
<text x="83.5" y="100.4" font-size="17.5" text-anchor="end">350</text>
<text x="155.4" y="100.4" font-size="17.5" text-anchor="end">35</text>
<text x="45" y="76" font-size="17.5">P(kPa)</text>
<text x="121" y="76" font-size="17.5">H(m)</text>
<path d="M1080 96.4V407.4" stroke="#999" stroke-width="1.5" fill="none"/>
<path d="M1080 143.4H1087.8M1080 192.7H1087.8M1080 246.3H1087.8M1080 299.4H1087.8M1080 352.6H1087.8M1080 407.4H1087.8" stroke="#666" stroke-width="1.2" fill="none"/>
<text x="1094.9" y="147.5" font-size="17.5">100</text>
<text x="1094.9" y="199.9" font-size="17.5">80</text>
<text x="1094.9" y="252.3" font-size="17.5">60</text>
<text x="1094.9" y="304.8" font-size="17.5">40</text>
<text x="1094.9" y="357.2" font-size="17.5">20</text>
<text x="1094.9" y="409.6" font-size="17.5">0</text>
<text x="1095" y="117.2" font-size="17.5">feet</text>
<path d="M173.5 60.4H1059.2M173.5 52V60.4M359.5 52V60.4M556.6 52V60.4M776.4 52V60.4M994.4 52V60.4" stroke="#666" stroke-width="1.2" fill="none"/>
<text x="177.75" y="47.2" font-size="17.5" text-anchor="middle">0</text>
<text x="360.9" y="47.2" font-size="17.5" text-anchor="middle">10</text>
<text x="557.9" y="47.2" font-size="17.5" text-anchor="middle">20</text>
<text x="774.8" y="47.2" font-size="17.5" text-anchor="middle">30</text>
<text x="992.8" y="47.2" font-size="17.5" text-anchor="middle">40</text>
<text x="1057" y="47.4" font-size="17.5">US g.p.m</text>
<path d="M407 85.5V96.4M649.2 85.5V96.4M904.6 85.5V96.4" stroke="#666" stroke-width="1.2" fill="none"/>
<text x="177.75" y="83.1" font-size="17.5" text-anchor="middle">0</text>
<text x="405.1" y="83.1" font-size="17.5" text-anchor="middle">10</text>
<text x="649" y="83.1" font-size="17.5" text-anchor="middle">20</text>
<text x="904.4" y="83.1" font-size="17.5" text-anchor="middle">30</text>
<text x="1058.5" y="83.4" font-size="17.5">Imp g.p.m</text>
<text x="175.3" y="435.4" font-size="17.5" text-anchor="middle">0</text>
<text x="263.1" y="435.4" font-size="17.5" text-anchor="middle">1</text>
<text x="351.2" y="435.4" font-size="17.5" text-anchor="middle">2</text>
<text x="439.2" y="435.4" font-size="17.5" text-anchor="middle">3</text>
<text x="525.8" y="435.4" font-size="17.5" text-anchor="middle">4</text>
<text x="616.5" y="435.4" font-size="17.5" text-anchor="middle">5</text>
<text x="703.8" y="435.4" font-size="17.5" text-anchor="middle">6</text>
<text x="792.0" y="435.4" font-size="17.5" text-anchor="middle">7</text>
<text x="880.7" y="435.4" font-size="17.5" text-anchor="middle">8</text>
<text x="968.7" y="435.4" font-size="17.5" text-anchor="middle">9</text>
<text x="1059.5" y="435.4" font-size="17.5" text-anchor="middle">10</text>
<text x="1094.5" y="430.8" font-size="17.5">Q(m<tspan font-size="9.5" dy="-7">3</tspan><tspan dy="7">/h)</tspan></text>
<path d="M173.5 442.6H1057.7M173.5 442.6V456.5M285.4 442.6V456.5M396.3 442.6V456.5M506.5 442.6V456.5M616.8 442.6V456.5M726.8 442.6V456.5M837.4 442.6V456.5M947.5 442.6V456.5M1057.7 442.6V456.5" stroke="#555" stroke-width="1.2" fill="none"/>
<text x="177.2" y="471.5" font-size="17.5" text-anchor="middle">0</text>
<text x="287.8" y="471.5" font-size="17.5" text-anchor="middle">20</text>
<text x="396.4" y="471.5" font-size="17.5" text-anchor="middle">40</text>
<text x="509.7" y="471.5" font-size="17.5" text-anchor="middle">60</text>
<text x="618.0" y="471.5" font-size="17.5" text-anchor="middle">80</text>
<text x="732.1" y="471.5" font-size="17.5" text-anchor="middle">100</text>
<text x="841.3" y="471.5" font-size="17.5" text-anchor="middle">120</text>
<text x="950.5" y="471.5" font-size="17.5" text-anchor="middle">140</text>
<text x="1060.3" y="471.5" font-size="17.5" text-anchor="middle">160</text>
<text x="1094.5" y="471.7" font-size="17.5">Q(l/min)</text>
</svg></body></html>
